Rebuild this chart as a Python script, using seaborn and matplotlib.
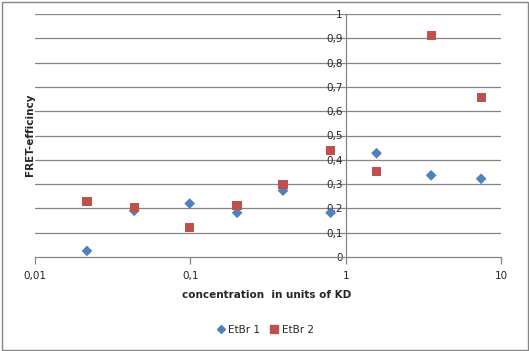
import numpy as np
import pandas as pd
import matplotlib
matplotlib.use("Agg")
import matplotlib.pyplot as plt
import seaborn as sns
from matplotlib.patches import Rectangle
from matplotlib.ticker import FixedLocator, FuncFormatter, NullLocator

# data
conc = [0.0216, 0.0435, 0.099, 0.2, 0.395, 0.8, 1.58, 3.55, 7.45]
etbr1 = [0.025, 0.19, 0.22, 0.182, 0.273, 0.182, 0.427, 0.336, 0.322]
etbr2 = [0.228, 0.203, 0.12, 0.211, 0.299, 0.437, 0.351, 0.911, 0.656]
series = ["EtBr 1", "EtBr 2"]
colors = {"EtBr 1": "#4F81BD", "EtBr 2": "#C0504D"}

df = pd.DataFrame({
    "conc": conc * 2,
    "fret": etbr1 + etbr2,
    "series": [series[0]] * len(conc) + [series[1]] * len(conc),
})

sns.set_style("white")
plt.rcParams["font.family"] = ["DejaVu Sans"]

fig = plt.figure(figsize=(5.29, 3.51), dpi=100)
ax = fig.add_axes([35 / 529, 1 - 257 / 351, 466 / 529, 243 / 351])

# gridlines first, under the markers
for yv in np.arange(0.1, 1.01, 0.1):
    ax.axhline(yv, color="#868686", lw=0.9, zorder=0)

sns.scatterplot(data=df, x="conc", y="fret", hue="series", style="series",
                markers={"EtBr 1": "D", "EtBr 2": "s"}, palette=colors,
                size="series", sizes={"EtBr 1": 30, "EtBr 2": 44},
                edgecolor="none", linewidth=0, legend=False, ax=ax, zorder=3)

ax.set_xscale("log")
ax.set_xlim(0.01, 10)
ax.set_ylim(0, 1)

ax.spines["top"].set_visible(False)
ax.spines["right"].set_visible(False)
ax.spines["left"].set_position(("data", 1))
for s in ["left", "bottom"]:
    ax.spines[s].set_color("#868686")
    ax.spines[s].set_linewidth(0.9)

comma = FuncFormatter(lambda v, p: ("%g" % v).replace(".", ","))
ax.xaxis.set_major_locator(FixedLocator([0.01, 0.1, 1, 10]))
ax.xaxis.set_minor_locator(NullLocator())
ax.xaxis.set_major_formatter(comma)
ax.yaxis.set_major_locator(FixedLocator(np.round(np.arange(0, 1.01, 0.1), 1)))
ax.yaxis.set_major_formatter(comma)
ax.tick_params(axis="x", direction="out", length=5, width=0.9, color="#868686",
               labelsize=7.5, pad=5, bottom=True)
ax.tick_params(axis="y", length=0, labelsize=7.5, pad=2, left=True)
ax.set_xlabel("")
ax.set_ylabel("")

fig.text(30 / 529, 1 - 135 / 351, "FRET-efficincy", rotation=90, ha="center",
         va="center", fontsize=7.5, fontweight="bold")
fig.text(267 / 529, 1 - 295 / 351, "concentration  in units of KD", ha="center",
         va="center", fontsize=7.5, fontweight="bold")

handles = [
    plt.Line2D([], [], marker="D", ls="none", color=colors["EtBr 1"], markersize=4.5),
    plt.Line2D([], [], marker="s", ls="none", color=colors["EtBr 2"], markersize=5.5),
]
fig.legend(handles, series, loc="center", bbox_to_anchor=(265 / 529, 1 - 330 / 351),
           ncol=2, frameon=False, fontsize=7.5, handlelength=0.8,
           handletextpad=0.3, columnspacing=1.0)

# chart border
fig.patches.append(Rectangle((1.5 / 529, 1.5 / 351), 526 / 529, 348 / 351,
                             transform=fig.transFigure, fill=False,
                             edgecolor="#868686", lw=1))

fig.savefig("out.png", dpi=100)
